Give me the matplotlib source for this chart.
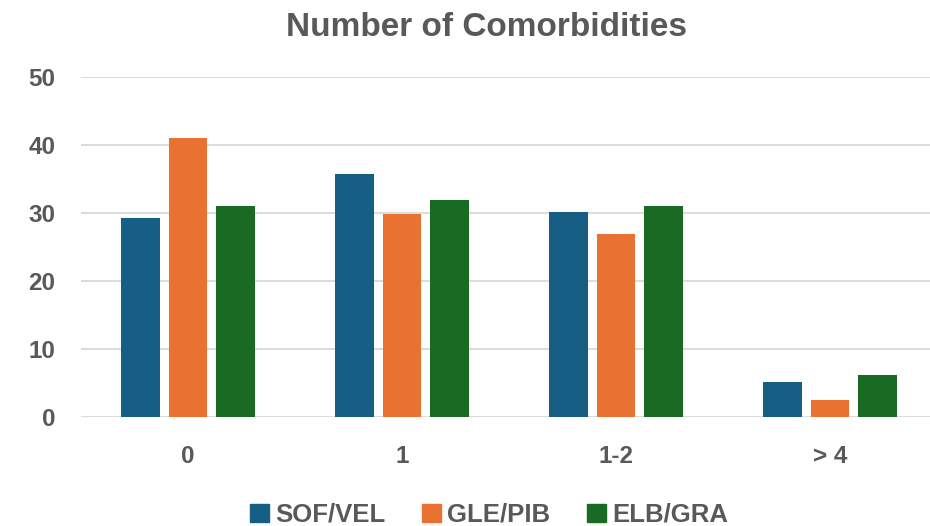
import matplotlib.pyplot as plt
import numpy as np
from matplotlib.patches import Patch

plt.rcParams['font.family'] = ['Liberation Sans', 'DejaVu Sans']

categories = ['0', '1', '1-2', '> 4']
series_names = ['SOF/VEL', 'GLE/PIB', 'ELB/GRA']
sof_vel = [29.2, 35.7, 30.1, 5.1]
gle_pib = [41.0, 29.8, 26.9, 2.4]
elb_gra = [31.0, 31.9, 31.0, 6.2]
colors = ['#165E83', '#E97132', '#196B24']
text_color = '#595959'

fig = plt.figure(figsize=(9.3, 5.26), dpi=100)
ax = fig.add_axes([81 / 930, 1 - 416.7 / 526, 856 / 930, 340 / 526])

x = np.arange(len(categories))
width = 0.178
offset = 0.222
for i, vals in enumerate([sof_vel, gle_pib, elb_gra]):
    ax.bar(x + (i - 1) * offset, vals, width, color=colors[i], zorder=3)

ax.set_xlim(-0.5, 3.5)
ax.set_ylim(0, 50)
ax.set_yticks(range(0, 51, 10))
ax.set_xticks(x)
ax.set_xticklabels(categories)
ax.yaxis.grid(True, color='#D9D9D9', linewidth=1.3, zorder=0)
for s in ax.spines.values():
    s.set_visible(False)
ax.tick_params(axis='y', length=0, pad=18.5, labelsize=17.5, labelcolor=text_color)
ax.tick_params(axis='x', length=0, pad=20.5, labelsize=17.5, labelcolor=text_color)
for lbl in ax.get_xticklabels() + ax.get_yticklabels():
    lbl.set_fontweight('bold')

fig.text(486 / 930, 1 - 27 / 526, 'Number of Comorbidities', ha='center', va='center',
         fontsize=24, fontweight='bold', color=text_color)

handles = [Patch(color=c) for c in colors]
fig.legend(handles, series_names, loc='center', bbox_to_anchor=(489 / 930, 1 - 515 / 526),
           ncol=3, frameon=False, handlelength=0.75, handleheight=0.75,
           handletextpad=0.25, columnspacing=1.4,
           prop={'size': 18.5, 'weight': 'bold'}, labelcolor=text_color)

fig.savefig('out.png', dpi=100)
